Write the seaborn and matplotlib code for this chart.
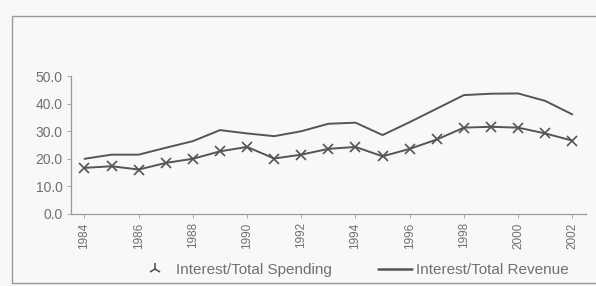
import matplotlib
matplotlib.use("Agg")
import matplotlib.pyplot as plt
from matplotlib.patches import Rectangle
from matplotlib.lines import Line2D
import seaborn as sns
import pandas as pd

# data
years = list(range(1984, 2003))
spending = [16.7, 17.3, 16.1, 18.5, 20.0, 22.7, 24.3, 20.1, 21.5, 23.6,
            24.3, 20.9, 23.6, 27.0, 31.3, 31.6, 31.3, 29.2, 26.6]
revenue = [20.0, 21.5, 21.5, 24.0, 26.4, 30.4, 29.2, 28.2, 30.0, 32.7,
           33.1, 28.6, 33.3, 38.2, 43.1, 43.6, 43.7, 41.0, 36.1]
tick_years = list(range(1984, 2003, 2))

df = pd.DataFrame({"year": years, "spending": spending, "revenue": revenue})

sns.set_style("white")
plt.rcParams["font.family"] = ["Liberation Sans", "DejaVu Sans"]

line_col = "#555555"
text_col = "#707070"
bg = "#f8f8f7"

fig = plt.figure(figsize=(5.96, 2.86), dpi=100, facecolor=bg)
ax = fig.add_axes([0.119, 0.252, 0.864, 0.482])
ax.set_facecolor(bg)

sns.lineplot(data=df, x="year", y="spending", ax=ax, color=line_col,
             linewidth=1.4, marker="x", markersize=6.5, markeredgewidth=1.2,
             markeredgecolor=line_col)
sns.lineplot(data=df, x="year", y="revenue", ax=ax, color=line_col,
             linewidth=1.4)

ax.set_xlim(1983.5, 2002.5)
ax.set_ylim(0, 50)
ax.set_yticks([0, 10, 20, 30, 40, 50])
ax.set_yticklabels([f"{v:.1f}" for v in [0, 10, 20, 30, 40, 50]],
                   fontsize=10, color=text_col)
ax.set_xticks(tick_years)
ax.set_xticklabels([str(y) for y in tick_years], rotation=90,
                   fontsize=8.5, color=text_col)
ax.set_xlabel("")
ax.set_ylabel("")
for s in ["top", "right"]:
    ax.spines[s].set_visible(False)
for s in ["left", "bottom"]:
    ax.spines[s].set_color("#999999")
    ax.spines[s].set_linewidth(0.9)
ax.tick_params(axis="both", length=3, color="#999999", width=0.6,
               left=True, bottom=True, pad=3)

handles = [
    Line2D([], [], color=line_col, marker="2", linestyle="none",
           markersize=9, markeredgewidth=1.2),
    Line2D([], [], color=line_col, linewidth=1.8),
]
fig.legend(handles, ["Interest/Total Spending", "Interest/Total Revenue"],
           loc="center", bbox_to_anchor=(0.593, 0.055), ncol=2, frameon=False,
           fontsize=11, labelcolor=text_col, columnspacing=3.0,
           handlelength=2.2, handletextpad=0.3)

# scanned frame around the chart (left, top, bottom edges)
fig.patches.append(Rectangle((12 / 596, 3 / 286), 1.0, 1 - 19 / 286,
                             transform=fig.transFigure, fill=False,
                             edgecolor="#9a9a9a", linewidth=1.0))

fig.savefig("out.png", dpi=100, facecolor=fig.get_facecolor())
